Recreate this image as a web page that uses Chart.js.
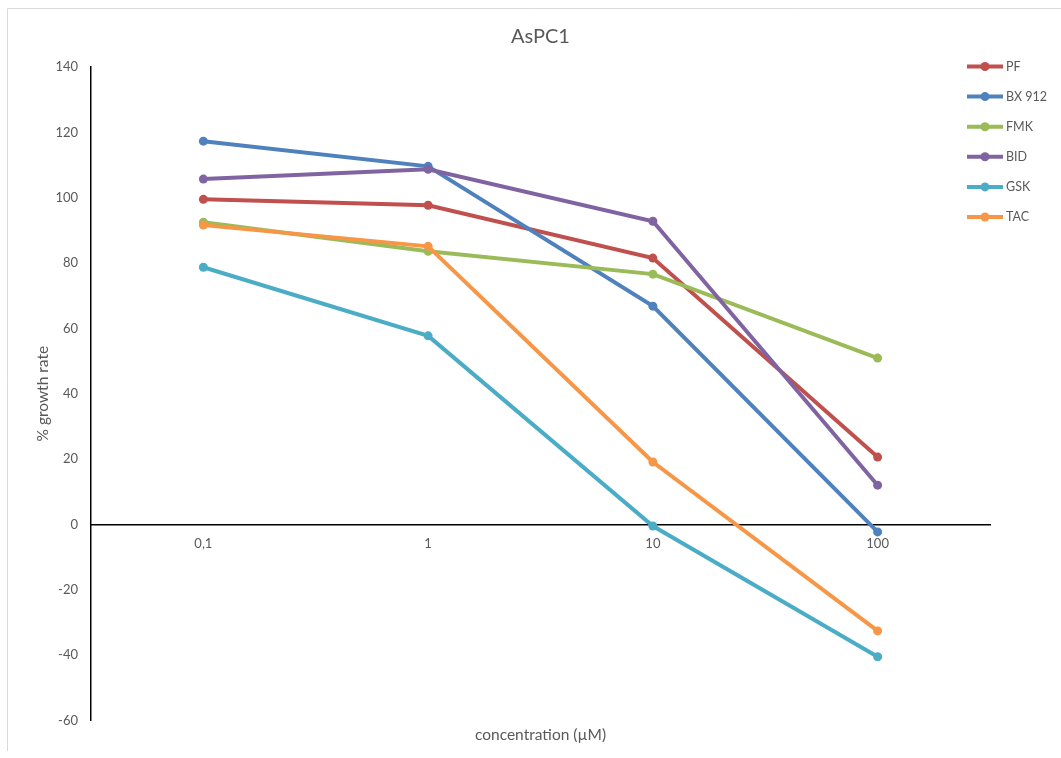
<!DOCTYPE html>
<html>
<head>
<meta charset="utf-8">
<script src="https://cdn.jsdelivr.net/npm/chart.js@4/dist/chart.umd.min.js"></script>
<style>
html,body{margin:0;padding:0;background:#fff;}
#wrap{width:1061px;height:758px;position:relative;}
</style>
</head>
<body>
<div id="wrap"><canvas id="c" width="1061" height="758"></canvas></div>
<script>
const categories = ['0,1', '1', '10', '100'];
const seriesNames = ['PF', 'BX 912', 'FMK', 'BID', 'GSK', 'TAC'];
const PF    = [99.5, 97.7, 81.5, 20.6];
const BX912 = [117.3, 109.6, 66.8, -2.3];
const FMK   = [92.5, 83.6, 76.6, 50.9];
const BID   = [105.7, 108.7, 92.8, 12.0];
const GSK   = [78.7, 57.7, -0.5, -40.5];
const TAC   = [91.6, 85.1, 19.1, -32.6];
const seriesValues = [PF, BX912, FMK, BID, GSK, TAC];
const seriesColors = ['#C0504D', '#4F81BD', '#9BBB59', '#8064A2', '#4BACC6', '#F79646'];
const yTicks = [-60, -40, -20, 0, 20, 40, 60, 80, 100, 120, 140];

const FONT = 'Lato, "Open Sans", sans-serif';
const GRAY = '#595959';

const datasets = seriesNames.map((name, i) => ({
  label: name,
  data: seriesValues[i],
  borderColor: seriesColors[i],
  backgroundColor: seriesColors[i],
  borderWidth: 4,
  pointRadius: 4.5,
  pointHoverRadius: 4.5,
  pointBorderWidth: 0,
  tension: 0,
  order: seriesNames.length - i
}));

const decor = {
  id: 'decor',
  beforeDraw(chart) {
    const ctx = chart.ctx;
    ctx.save();
    ctx.fillStyle = '#fff';
    ctx.fillRect(0, 0, chart.width, chart.height);
    ctx.strokeStyle = '#d9d9d9';
    ctx.lineWidth = 1;
    ctx.beginPath();
    ctx.moveTo(7.5, 751);
    ctx.lineTo(7.5, 8.5);
    ctx.lineTo(chart.width, 8.5);
    ctx.stroke();
    ctx.restore();
  },
  afterDraw(chart) {
    const ctx = chart.ctx;
    ctx.save();
    const x0 = 967, x1 = 1003, tx = 1006;
    chart.data.datasets.forEach((ds, i) => {
      const y = 66.5 + i * 30.1;
      ctx.strokeStyle = ds.borderColor;
      ctx.lineWidth = 4;
      ctx.beginPath();
      ctx.moveTo(x0, y);
      ctx.lineTo(x1, y);
      ctx.stroke();
      ctx.fillStyle = ds.borderColor;
      ctx.beginPath();
      ctx.arc((x0 + x1) / 2, y, 4.5, 0, Math.PI * 2);
      ctx.fill();
      ctx.fillStyle = GRAY;
      ctx.font = '12.5px ' + FONT;
      ctx.textBaseline = 'middle';
      ctx.textAlign = 'left';
      ctx.fillText(ds.label, tx, y);
    });
    ctx.restore();
  }
};

new Chart(document.getElementById('c'), {
  type: 'line',
  data: { labels: categories, datasets },
  plugins: [decor],
  options: {
    responsive: false,
    animation: false,
    layout: { padding: { left: 0, right: 71, top: 0, bottom: 0 } },
    plugins: {
      legend: { display: false },
      tooltip: { enabled: false },
      title: {
        display: true,
        fullSize: false,
        text: 'AsPC1',
        color: GRAY,
        font: { family: FONT, size: 20, weight: 'normal' },
        padding: { top: 25, bottom: 18 }
      },
      subtitle: {
        display: true,
        fullSize: false,
        position: 'bottom',
        text: 'concentration (µM)',
        color: GRAY,
        font: { family: FONT, size: 15.5, weight: 'normal' },
        padding: { top: 5.5, bottom: 13.5 }
      }
    },
    scales: {
      x: {
        type: 'category',
        position: { y: 0 },
        offset: true,
        grid: { display: false, drawTicks: false },
        border: { display: true, color: '#000', width: 1.5 },
        ticks: { color: GRAY, font: { family: FONT, size: 13 }, padding: 12, maxRotation: 0 }
      },
      y: {
        min: -60,
        max: 140,
        afterBuildTicks(scale) { scale.ticks = yTicks.map(v => ({ value: v })); },
        afterFit(scale) { scale.width = 91; },
        grid: { display: false, drawTicks: false },
        border: { display: true, color: '#000', width: 1.5 },
        ticks: { color: GRAY, font: { family: FONT, size: 13 }, padding: 13 },
        title: {
          display: true,
          text: '% growth rate',
          color: GRAY,
          font: { family: FONT, size: 15.5, weight: 'normal' },
          padding: { top: 34, bottom: 0 }
        }
      }
    }
  }
});
</script>
</body>
</html>
